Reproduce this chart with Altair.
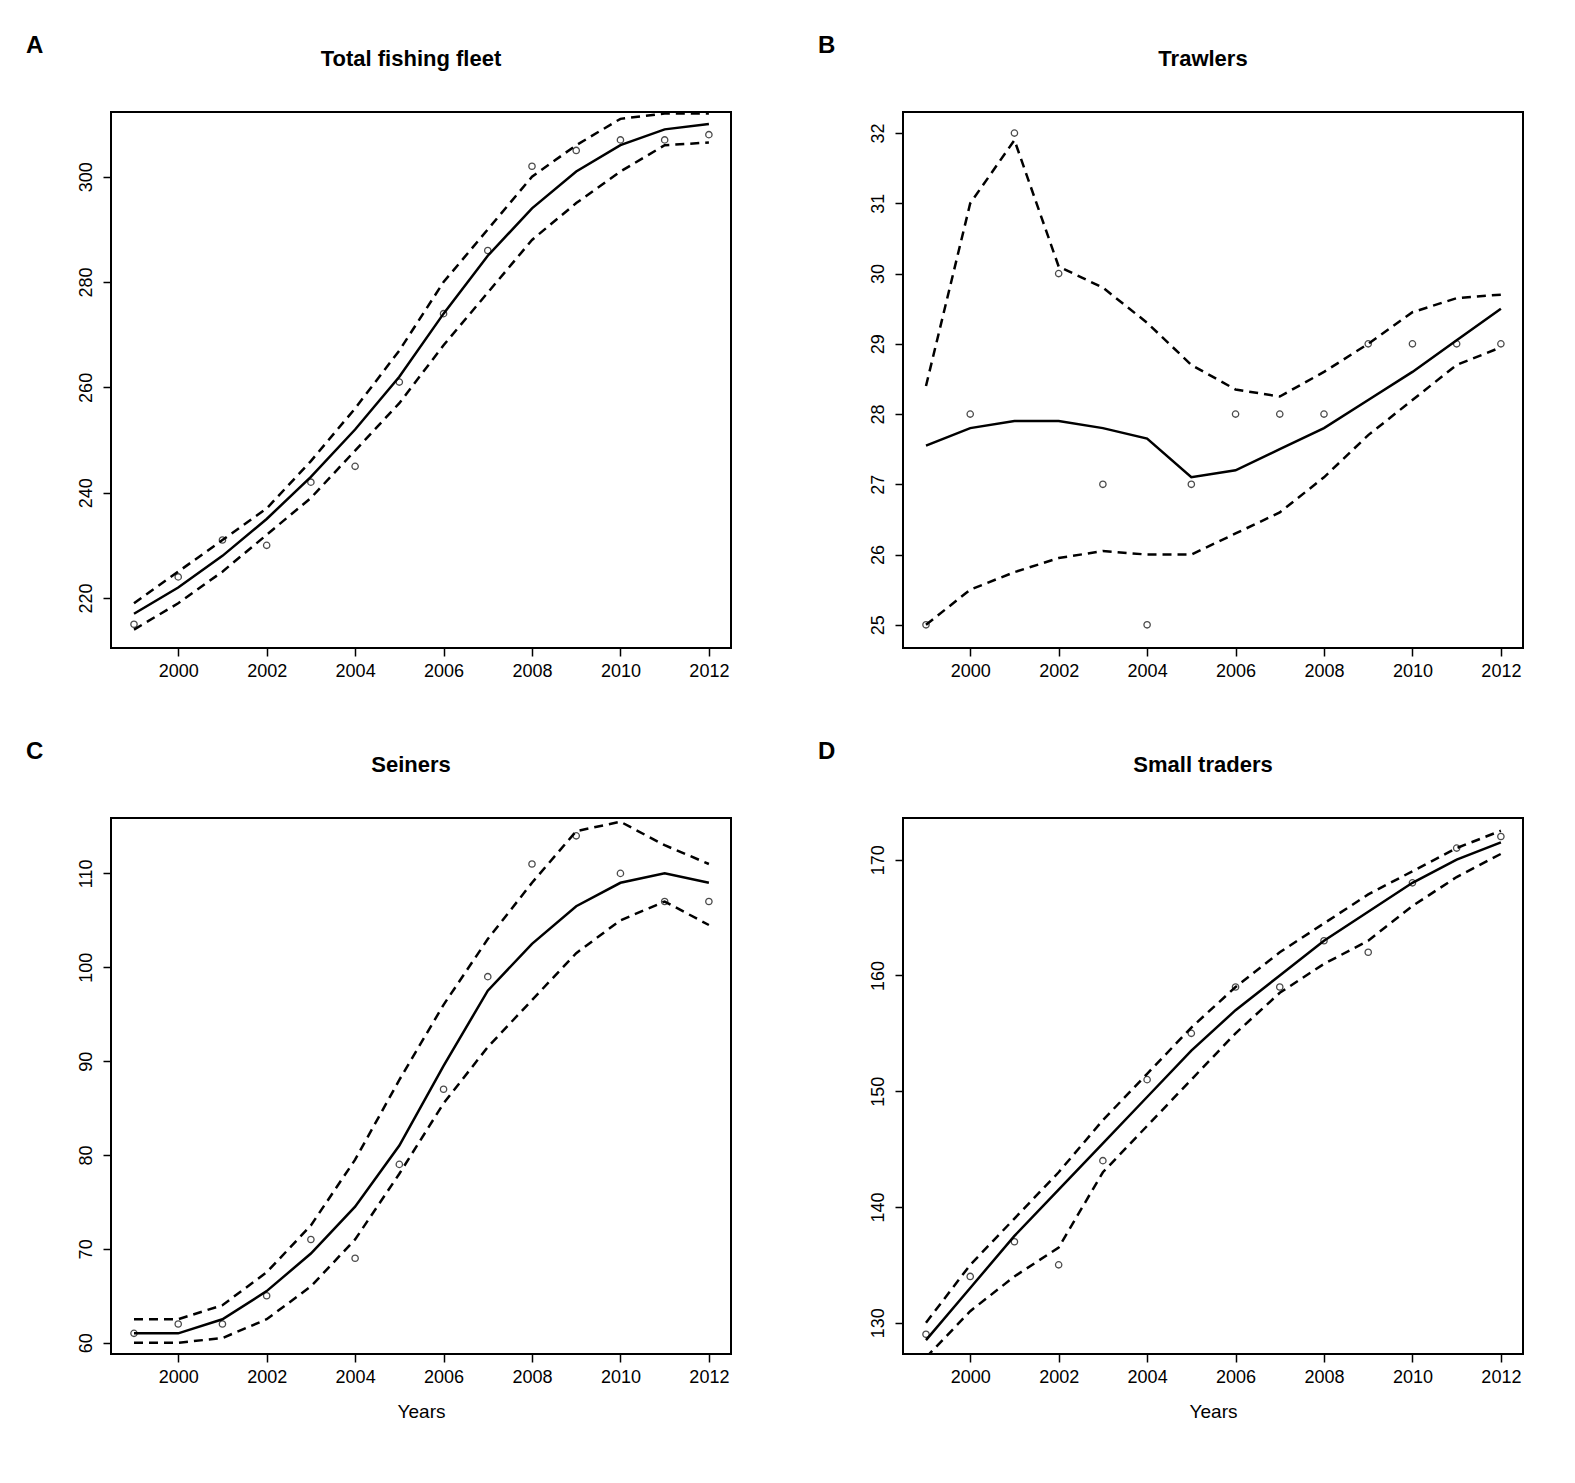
import altair as alt
import pandas as pd

years = list(range(1999, 2013))

a_obs = [215, 224, 231, 230, 242, 245, 261, 274, 286, 302, 305, 307, 307, 308]
a_fit = [217, 222, 228, 235, 243, 252, 262, 274, 285, 294, 301, 306, 309, 310]
a_up = [219, 225, 231, 237, 246, 256, 267, 280, 290, 300, 306, 311, 312, 312]
a_lo = [214, 219, 225, 232, 239, 248, 257, 268, 278, 288, 295, 301, 306, 306.5]

b_obs = [25, 28, 32, 30, 27, 25, 27, 28, 28, 28, 29, 29, 29, 29]
b_fit = [27.55, 27.8, 27.9, 27.9, 27.8, 27.65, 27.1, 27.2, 27.5, 27.8, 28.2, 28.6, 29.05, 29.5]
b_up = [28.4, 31.0, 31.9, 30.1, 29.8, 29.3, 28.7, 28.35, 28.25, 28.6, 29.0, 29.45, 29.65, 29.7]
b_lo = [25.0, 25.5, 25.75, 25.95, 26.05, 26.0, 26.0, 26.3, 26.6, 27.1, 27.7, 28.2, 28.7, 28.95]

c_obs = [61, 62, 62, 65, 71, 69, 79, 87, 99, 111, 114, 110, 107, 107]
c_fit = [61, 61, 62.5, 65.5, 69.5, 74.5, 81, 89.5, 97.5, 102.5, 106.5, 109, 110, 109]
c_up = [62.5, 62.5, 64, 67.5, 72.5, 79.5, 88, 96, 103, 109, 114.5, 115.5, 113, 111]
c_lo = [60, 60, 60.5, 62.5, 66, 71, 78, 85.5, 91.5, 96.5, 101.5, 105, 107, 104.5]

d_obs = [129, 134, 137, 135, 144, 151, 155, 159, 159, 163, 162, 168, 171, 172]
d_fit = [128.5, 133, 137.5, 141.5, 145.5, 149.5, 153.5, 157, 160, 163, 165.5, 168, 170, 171.5]
d_up = [130, 135, 139, 143, 147.5, 151.5, 155.5, 159, 162, 164.5, 167, 169, 171, 172.5]
d_lo = [127, 131, 134, 136.5, 143, 147, 151, 155, 158.5, 161, 163, 166, 168.5, 170.5]

FONT = "Liberation Sans"
W, H = 620, 536


def panel(letter, title, obs, fit, up, lo, ydom, yvals, xtitle):
    df = pd.DataFrame({"year": years, "obs": obs, "fit": fit, "up": up, "lo": lo})
    x = alt.X("year:Q", scale=alt.Scale(domain=[1998.48, 2012.5], nice=False, zero=False),
              axis=alt.Axis(values=list(range(2000, 2013, 2)), format="d", grid=False,
                            title=xtitle, tickSize=8, labelPadding=6, titlePadding=16,
                            domain=False))
    def y(field):
        return alt.Y(f"{field}:Q", scale=alt.Scale(domain=ydom, nice=False, zero=False),
                     axis=alt.Axis(values=yvals, grid=False, title=None, labelAngle=-90,
                                   labelAlign="center", labelBaseline="bottom",
                                   tickSize=8, labelPadding=8, domain=False))
    base = alt.Chart(df)
    fitl = base.mark_line(color="black", strokeWidth=2.5, clip=True).encode(x=x, y=y("fit"))
    upl = base.mark_line(color="black", strokeWidth=2.5, strokeDash=[9, 6], clip=True).encode(x=x, y=y("up"))
    lol = base.mark_line(color="black", strokeWidth=2.5, strokeDash=[9, 6], clip=True).encode(x=x, y=y("lo"))
    pts = base.mark_point(shape="circle", filled=False, color="black", size=40, strokeWidth=1.3).encode(x=x, y=y("obs"))
    lab = alt.Chart(pd.DataFrame({"t": [letter]})).mark_text(
        font=FONT, fontSize=24, fontWeight="bold", align="left", baseline="middle"
    ).encode(text="t:N", x=alt.value(-85), y=alt.value(-66))
    ttl = alt.Chart(pd.DataFrame({"t": [title]})).mark_text(
        font=FONT, fontSize=22, fontWeight="bold", align="center", baseline="middle"
    ).encode(text="t:N", x=alt.value(W / 2 - 10), y=alt.value(-53))
    return alt.layer(upl, lol, fitl, pts, lab, ttl).properties(width=W, height=H)


A = panel("A", "Total fishing fleet", a_obs, a_fit, a_up, a_lo, [210.5, 312.3], [220, 240, 260, 280, 300], None)
B = panel("B", "Trawlers", b_obs, b_fit, b_up, b_lo, [24.67, 32.3], [25, 26, 27, 28, 29, 30, 31, 32], None)
C = panel("C", "Seiners", c_obs, c_fit, c_up, c_lo, [58.8, 115.9], [60, 70, 80, 90, 100, 110], "Years")
D = panel("D", "Small traders", d_obs, d_fit, d_up, d_lo, [127.3, 173.6], [130, 140, 150, 160, 170], "Years")

chart = alt.vconcat(
    alt.hconcat(A, B, spacing=85),
    alt.hconcat(C, D, spacing=85),
    spacing=58,
).configure(
    background="white", padding={"left": 17, "top": 25, "right": 10, "bottom": 10}
).configure_view(stroke="black", strokeWidth=2).configure_axis(
    labelFont=FONT, titleFont=FONT, labelFontSize=18, titleFontSize=19, labelColor="black",
    titleColor="black", tickColor="black", tickWidth=1.5, titleFontWeight="normal"
)

chart.save("out.html", embed_options={"renderer": "svg", "actions": False})
